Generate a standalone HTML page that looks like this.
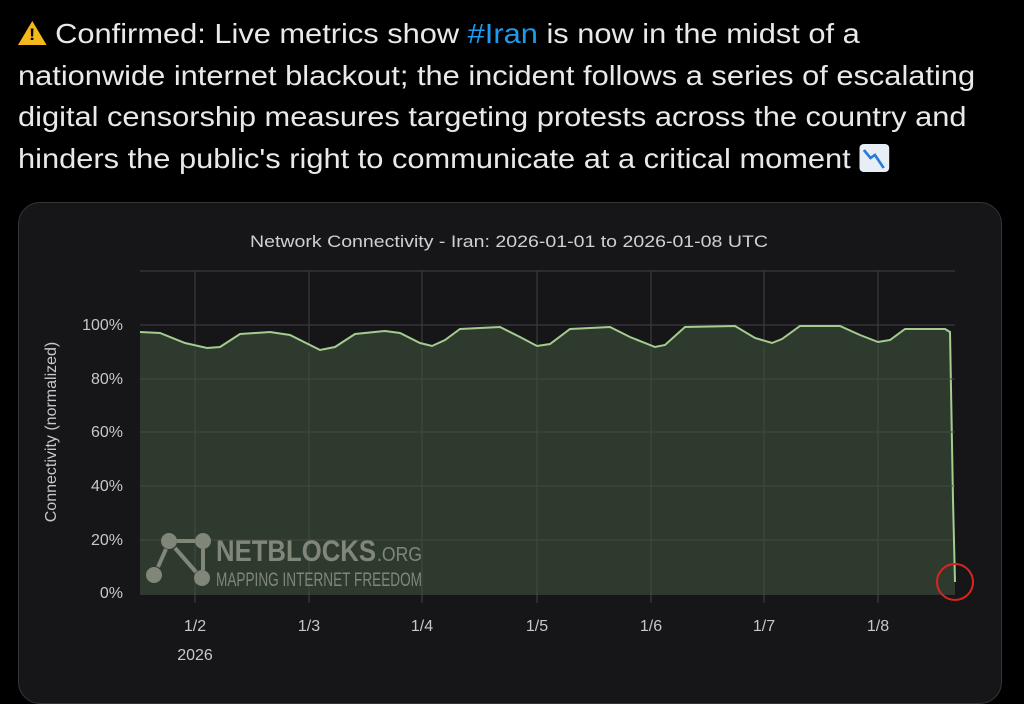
<!DOCTYPE html>
<html><head><meta charset="utf-8"><style>
body{margin:0;width:1024px;height:675px;background:#000;overflow:hidden;font-family:"Liberation Sans",sans-serif;}
.t{position:absolute;left:18px;top:13px;color:#e7e9ea;font-size:28px;line-height:41.5px;white-space:nowrap;}
.t div{transform-origin:0 50%;}
.t .h{color:#1d9bf0}
.card{position:absolute;left:18px;top:202px;width:982px;height:500px;border:1px solid #35363a;border-radius:22px;background:#161618;}
</style></head><body>
<div class="t">
<div style="transform:scaleX(1.1)"><span style="display:inline-block;width:0;height:0;border-left:13px solid transparent;border-right:13px solid transparent;border-bottom:24px solid #f5b81c;vertical-align:-2px;position:relative"><span style="position:absolute;left:-3px;top:4px;font-size:17px;font-weight:bold;color:#000;line-height:20px">!</span></span> Confirmed: Live metrics show <span class="h">#Iran</span> is now in the midst of a</div>
<div style="transform:scaleX(1.1)">nationwide internet blackout; the incident follows a series of escalating</div>
<div style="transform:scaleX(1.1)">digital censorship measures targeting protests across the country and</div>
<div style="transform:scaleX(1.1)">hinders the public's right to communicate at a critical moment <span style="display:inline-block;width:27px;height:28px;background:#e8eef5;border-radius:4px;vertical-align:-4px;position:relative"><svg width="27" height="28" style="position:absolute;left:0;top:0"><polyline points="4,6 10,14 14,11 22,24" fill="none" stroke="#2a7ad8" stroke-width="2.5"/></svg></span></div>
</div>
<div class="card"></div>
<svg width="1024" height="675" style="position:absolute;left:0;top:0" font-family="Liberation Sans, sans-serif">
<text x="509" y="247" fill="#d0d0d0" font-size="17" text-anchor="middle" textLength="518" lengthAdjust="spacingAndGlyphs">Network Connectivity - Iran: 2026-01-01 to 2026-01-08 UTC</text>
<g stroke="#3a3b3e" stroke-width="1.2">
<line x1="140" y1="271" x2="955" y2="271"/>
<line x1="140" y1="325" x2="955" y2="325"/><line x1="140" y1="379" x2="955" y2="379"/><line x1="140" y1="432" x2="955" y2="432"/><line x1="140" y1="486" x2="955" y2="486"/><line x1="140" y1="540" x2="955" y2="540"/>
<line x1="195" y1="271" x2="195" y2="603"/><line x1="309" y1="271" x2="309" y2="603"/><line x1="422" y1="271" x2="422" y2="603"/><line x1="537" y1="271" x2="537" y2="603"/><line x1="651" y1="271" x2="651" y2="603"/><line x1="764" y1="271" x2="764" y2="603"/><line x1="878" y1="271" x2="878" y2="603"/>
</g>
<path d="M140,332 L160,333 L185,343 L207,348 L220,347 L240,334 L270,332 L290,335 L320,350 L335,347 L355,334 L385,331 L400,333 L420,343 L432,346 L445,340 L460,329 L500,327 L520,337 L537,346 L550,344 L570,329 L610,327 L630,337 L655,347 L665,345 L685,327 L735,326 L755,338 L772,343 L782,339 L800,326 L840,326 L860,335 L878,342 L890,340 L905,329 L945,329 L950,332 L953,500 L955,582 L955,593 L140,593 Z" fill="#2f3a2e" stroke="none"/>
<path d="M140,332 L160,333 L185,343 L207,348 L220,347 L240,334 L270,332 L290,335 L320,350 L335,347 L355,334 L385,331 L400,333 L420,343 L432,346 L445,340 L460,329 L500,327 L520,337 L537,346 L550,344 L570,329 L610,327 L630,337 L655,347 L665,345 L685,327 L735,326 L755,338 L772,343 L782,339 L800,326 L840,326 L860,335 L878,342 L890,340 L905,329 L945,329 L950,332 L953,500 L955,582" fill="none" stroke="#a3cc8f" stroke-width="2"/>
<g stroke="#40493f" stroke-width="1"><line x1="140" y1="379" x2="953" y2="379"/><line x1="140" y1="432" x2="953" y2="432"/><line x1="140" y1="486" x2="953" y2="486"/><line x1="140" y1="540" x2="953" y2="540"/><line x1="195" y1="350" x2="195" y2="593"/><line x1="309" y1="352" x2="309" y2="593"/><line x1="422" y1="348" x2="422" y2="593"/><line x1="537" y1="348" x2="537" y2="593"/><line x1="651" y1="348" x2="651" y2="593"/><line x1="764" y1="345" x2="764" y2="593"/><line x1="878" y1="344" x2="878" y2="593"/></g>
<line x1="140" y1="594" x2="955" y2="594" stroke="#505250"/>
<g fill="#c8c8c8" font-size="16" text-anchor="end">
<text x="123" y="330">100%</text><text x="123" y="384">80%</text><text x="123" y="437">60%</text><text x="123" y="491">40%</text><text x="123" y="545">20%</text><text x="123" y="598">0%</text></g>
<g fill="#c8c8c8" font-size="16" text-anchor="middle">
<text x="195" y="631">1/2</text><text x="195" y="660">2026</text><text x="309" y="631">1/3</text><text x="422" y="631">1/4</text><text x="537" y="631">1/5</text><text x="651" y="631">1/6</text><text x="764" y="631">1/7</text><text x="878" y="631">1/8</text></g>
<text transform="translate(56,432) rotate(-90)" fill="#c8c8c8" font-size="16" text-anchor="middle">Connectivity (normalized)</text>
<g fill="#808779">
<circle cx="169" cy="541" r="8"/><circle cx="203" cy="541" r="8"/><circle cx="154" cy="575" r="8"/><circle cx="202" cy="578" r="8"/>
<g stroke="#808779" stroke-width="4"><line x1="177" y1="541" x2="195" y2="541"/><line x1="166" y1="549" x2="158" y2="567"/><line x1="175" y1="548" x2="196" y2="572"/><line x1="203" y1="549" x2="203" y2="570"/></g>
<text x="216" y="561" font-size="30" font-weight="bold" textLength="160" lengthAdjust="spacingAndGlyphs">NETBLOCKS</text>
<text x="377" y="561" font-size="20" textLength="45" lengthAdjust="spacingAndGlyphs">.ORG</text>
<text x="216" y="586" font-size="19" textLength="206" lengthAdjust="spacingAndGlyphs">MAPPING INTERNET FREEDOM</text></g>
<circle cx="955" cy="582" r="18" fill="none" stroke="#d8261e" stroke-width="2"/>
</svg>
</body></html>
